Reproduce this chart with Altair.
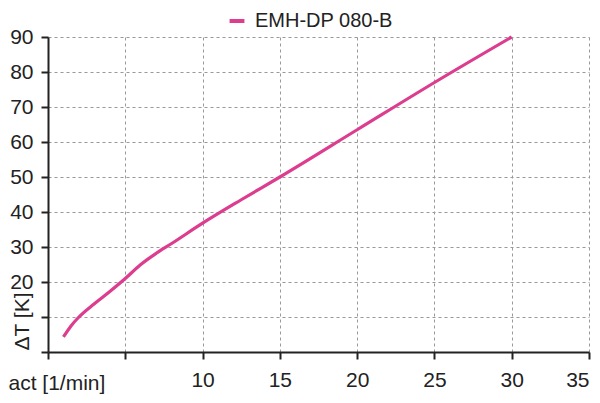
import altair as alt
import pandas as pd

series_name = "EMH-DP 080-B"
act = [1.0, 1.5, 2.0, 3.0, 4.0, 5.0, 6.0, 7.0, 8.0, 10.0, 12.5, 15.0, 20.0, 25.0, 30.0]
dT = [4.3, 7.5, 10.0, 13.8, 17.3, 21.0, 25.0, 28.2, 31.0, 36.8, 43.5, 50.0, 63.5, 77.0, 90.0]
x_ticks = [0, 5, 10, 15, 20, 25, 30, 35]
y_ticks = [0, 10, 20, 30, 40, 50, 60, 70, 80, 90]

df = pd.DataFrame({"act": act, "dT": dT, "series": [series_name] * len(act)})

FONT = "Liberation Sans"
pink = "#dc3d8e"

chart = alt.Chart(df).mark_line(strokeWidth=3.2, interpolate="monotone").encode(
    x=alt.X("act:Q", scale=alt.Scale(domain=[0, 35], nice=False),
            axis=alt.Axis(values=x_ticks, title="act [1/min]",
                          labelExpr="datum.value >= 10 ? datum.label : ''",
                          titleAnchor="start", titleX=-40, titleY=37,
                          titleBaseline="alphabetic", titleAlign="left",
                          labelPadding=10)),
    y=alt.Y("dT:Q", scale=alt.Scale(domain=[0, 90], nice=False),
            axis=alt.Axis(values=y_ticks, title="ΔT [K]",
                          labelExpr="datum.value >= 20 ? datum.label : ''",
                          titleAnchor="start", titleX=-20, titleY=313,
                          titleBaseline="alphabetic", titleAlign="left",
                          titleAngle=270, labelPadding=8)),
    color=alt.Color("series:N", scale=alt.Scale(domain=[series_name], range=[pink]),
                    legend=alt.Legend(title=None, orient="none", legendX=179, legendY=-26,
                                      symbolType="stroke", symbolStrokeWidth=4,
                                      symbolSize=220, labelFontSize=20, labelFont=FONT,
                                      labelColor="#222", labelOffset=8, padding=0)),
).properties(
    width=541, height=315,
    autosize=alt.AutoSizeParams(type="none"),
    padding={"left": 40, "top": 29, "right": 3, "bottom": 43},
).configure_view(stroke=None).configure_axis(
    gridColor="#999", gridDash=[3, 3], gridWidth=1,
    domainColor="#222", domainWidth=2, tickColor="#222", tickWidth=2, tickSize=7,
    labelFont=FONT, labelFontSize=21, labelColor="#222",
    titleFont=FONT, titleFontSize=21, titleColor="#222", titleFontWeight="normal",
)

chart.save("out.html", embed_options={"renderer": "svg", "actions": False})
